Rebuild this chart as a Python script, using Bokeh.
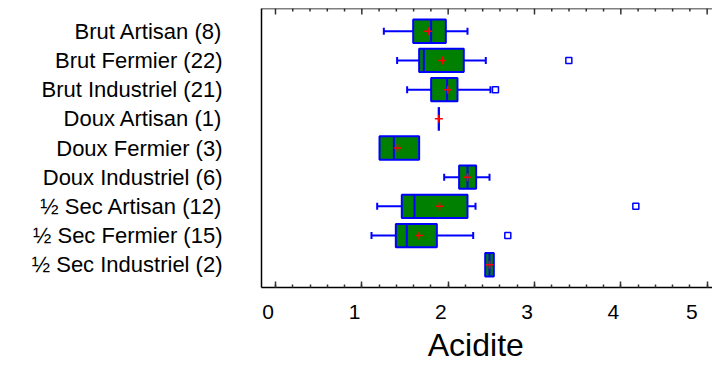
import numpy as np
from bokeh.plotting import figure
from bokeh.models import Range1d, LinearAxis, FixedTicker, ColumnDataSource, Span
from bokeh.embed import file_html
from bokeh.resources import INLINE

categories = ["Brut Artisan (8)", "Brut Fermier (22)", "Brut Industriel (21)",
              "Doux Artisan (1)", "Doux Fermier (3)", "Doux Industriel (6)",
              "½ Sec Artisan (12)", "½ Sec Fermier (15)", "½ Sec Industriel (2)"]
whisker_low = [1.255, 1.409, 1.525, 1.892, 1.205, 1.954, 1.178, 1.112, 2.429]
q1 = [1.595, 1.664, 1.803, 1.892, 1.205, 2.127, 1.463, 1.394, 2.429]
median = [1.803, 1.718, 1.988, 1.892, 1.371, 2.224, 1.610, 1.521, 2.479]
q3 = [1.973, 2.181, 2.108, 1.892, 1.664, 2.324, 2.224, 1.869, 2.529]
whisker_high = [2.224, 2.436, 2.490, 1.892, 1.664, 2.479, 2.317, 2.290, 2.529]
mean = [1.768, 1.931, 1.996, 1.892, 1.413, 2.224, 1.900, 1.664, 2.479]
outlier_cat = ["Brut Fermier (22)", "Brut Industriel (21)", "½ Sec Artisan (12)", "½ Sec Fermier (15)"]
outlier_val = [3.398, 2.548, 4.174, 2.691]
x_ticks = [0, 1, 2, 3, 4, 5]
x_label = "Acidite"

FONT = "Liberation Sans"
BLUE = "#0000FF"
GREEN = "#008000"
RED = "#FF0000"
TICK = "#333333"

n = len(categories)
ypos = {c: n - i for i, c in enumerate(categories)}
ys = [ypos[c] for c in categories]
BOX_H = 0.8

src = ColumnDataSource(dict(
    y=ys, wlo=whisker_low, q1=q1, med=median, q3=q3, whi=whisker_high, mean=mean,
    ylo=[v - BOX_H / 2 for v in ys], yhi=[v + BOX_H / 2 for v in ys]))

X0, X1 = -0.162, 5.062
Y0, Y1 = 0.22, 9.78
p = figure(width=712, height=365, output_backend="svg", toolbar_location=None,
           x_range=Range1d(X0, X1), y_range=Range1d(Y0, Y1),
           x_axis_location=None, y_axis_location=None,
           min_border_left=261, min_border_top=8, min_border_right=0, min_border_bottom=0)
p.outline_line_color = None
p.grid.visible = False
p.background_fill_color = "white"

minor = [round(v, 2) for v in np.arange(0, 5.01, 0.2)]
ticker = FixedTicker(ticks=x_ticks, minor_ticks=minor)

# bottom axis
xb = LinearAxis(ticker=ticker, axis_label=x_label + "\u2002\u2009")
xb.major_label_overrides = {t: str(t) + "\u2002\u2009" for t in x_ticks}
xb.axis_line_color = "black"
xb.axis_line_width = 1.5
xb.major_tick_in = 6
xb.major_tick_out = 0
xb.minor_tick_in = 3
xb.minor_tick_out = 0
xb.major_tick_line_color = TICK
xb.minor_tick_line_color = TICK
xb.major_tick_line_width = 1.5
xb.minor_tick_line_width = 1.5
xb.major_label_text_font = FONT
xb.major_label_text_font_size = "21px"
xb.major_label_text_color = "black"
xb.major_label_standoff = 12
xb.axis_label_text_font = FONT
xb.axis_label_text_font_size = "32px"
xb.axis_label_text_font_style = "normal"
xb.axis_label_text_color = "black"
xb.axis_label_standoff = 1
p.add_layout(xb, "below")

# left axis with category labels
yl = LinearAxis(ticker=FixedTicker(ticks=ys, minor_ticks=[]))
yl.major_label_overrides = {ypos[c]: c for c in categories}
yl.axis_line_color = "black"
yl.axis_line_width = 1.5
yl.major_tick_in = 0
yl.major_tick_out = 0
yl.major_label_text_font = FONT
yl.major_label_text_font_size = "22px"
yl.major_label_text_color = "black"
yl.major_label_standoff = 39
p.add_layout(yl, "left")

# top frame line with inward ticks
p.add_layout(Span(location=Y1, dimension="width", line_color="black", line_width=1.5))
px_per_unit_y = 281 / (Y1 - Y0)
maj_len = 6 / px_per_unit_y
min_len = 3 / px_per_unit_y
p.segment(x0=x_ticks, y0=[Y1] * len(x_ticks), x1=x_ticks, y1=[Y1 - maj_len] * len(x_ticks),
          line_color=TICK, line_width=1.5)
minor_only = [m for m in minor if m not in x_ticks]
p.segment(x0=minor_only, y0=[Y1] * len(minor_only), x1=minor_only,
          y1=[Y1 - min_len] * len(minor_only), line_color=TICK, line_width=1.5)

# whiskers
p.segment(x0="wlo", y0="y", x1="q1", y1="y", source=src, line_color=BLUE, line_width=2)
p.segment(x0="q3", y0="y", x1="whi", y1="y", source=src, line_color=BLUE, line_width=2)

# caps where whiskers exist
cap_x, cap_y = [], []
for c, lo, a, b, hi in zip(categories, whisker_low, q1, q3, whisker_high):
    if lo < a:
        cap_x.append(lo); cap_y.append(ypos[c])
    if hi > b:
        cap_x.append(hi); cap_y.append(ypos[c])
p.scatter(x=cap_x, y=cap_y, marker="dash", angle=np.pi / 2, size=7,
          line_color=BLUE, line_width=2)

# boxes
p.hbar(y="y", left="q1", right="q3", height=BOX_H, source=src,
       fill_color=GREEN, line_color=BLUE, line_width=2)
# medians
p.segment(x0="med", y0="ylo", x1="med", y1="yhi", source=src, line_color=BLUE, line_width=2)
# means
p.scatter(x="mean", y="y", source=src, marker="cross", size=8,
          line_color=RED, line_width=1.5)
# outliers
p.scatter(x=outlier_val, y=[ypos[c] for c in outlier_cat], marker="square", size=6,
          fill_color="white", line_color=BLUE, line_width=1.5)

open("out.html", "w").write(file_html(p, INLINE))
